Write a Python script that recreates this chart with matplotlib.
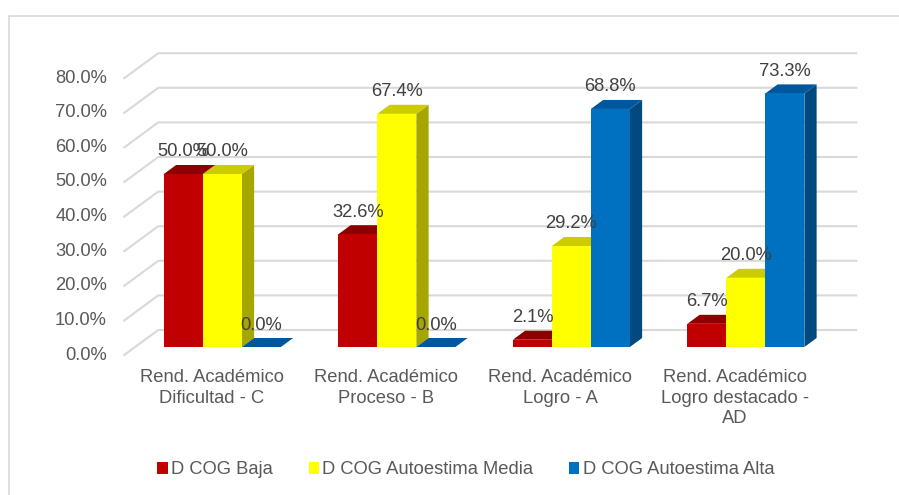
import matplotlib
matplotlib.use("Agg")
import matplotlib.pyplot as plt
from matplotlib.patches import Polygon, Rectangle, Patch

plt.rcParams['font.family'] = ['Liberation Sans', 'DejaVu Sans']

# --- datos ---
categorias = ["Rend. Académico\nDificultad - C",
              "Rend. Académico\nProceso - B",
              "Rend. Académico\nLogro - A",
              "Rend. Académico\nLogro destacado -\nAD"]
series = ["D COG Baja", "D COG Autoestima Media", "D COG Autoestima Alta"]
baja = [50.0, 32.6, 2.1, 6.7]
media = [50.0, 67.4, 29.2, 20.0]
alta = [0.0, 0.0, 68.8, 73.3]
valores = [baja, media, alta]
ticks_y = [0, 10, 20, 30, 40, 50, 60, 70, 80]

# colores: frente, tapa, lado
col_frente = ["#C00000", "#FFFF00", "#0070C0"]
col_tapa = ["#8E0000", "#CCCC00", "#00579C"]
col_lado = ["#8A0000", "#A6A600", "#004A80"]
gris_txt = "#595959"
gris_grid = "#D9D9D9"

# --- geometría (pixeles de la imagen -> unidades de datos) ---
W, H = 899, 495
PX_CAT0 = 211.5     # centro de la categoría 0 en el plano frontal
CAT_STEP = 174.5    # pixeles por categoría
PX_ZERO = 355       # 0% en el plano frontal
PX_PCT = 3.46       # pixeles por 1%
DX = 34 / CAT_STEP  # desplazamiento en profundidad completa
DY = 25 / PX_PCT
D_FRONT, D_BACK = 0.32, 0.68
ANCHO = 39 / CAT_STEP

fig = plt.figure(figsize=(W / 100, H / 100), dpi=100)
ax = fig.add_axes([0, 0, 1, 1])
ax.set_xlim((0 - PX_CAT0) / CAT_STEP, (W - PX_CAT0) / CAT_STEP)
ax.set_ylim((PX_ZERO - H) / PX_PCT, PX_ZERO / PX_PCT)
ax.axis('off')


def proy(x, y, d):
    return (x + DX * d, y + DY * d)


# marco exterior (solo se ven los bordes superior e izquierdo)
fig.patches.append(Rectangle((9 / W, -0.1), 1.0, 1.1 - 16 / H, transform=fig.transFigure,
                             fill=False, edgecolor=gris_grid, lw=1.2))

# --- líneas de cuadrícula (pared lateral y pared de fondo) ---
x_izq, x_der = -0.5, len(categorias) - 0.5
for t in ticks_y:
    p0 = proy(x_izq, t, 0)
    p1 = proy(x_izq, t, 1)
    p2 = proy(x_der, t, 1)
    ax.plot([p0[0], p1[0], p2[0]], [p0[1], p1[1], p2[1]], color=gris_grid, lw=1.5, zorder=1)
    ax.text((107 - PX_CAT0) / CAT_STEP, t, f"{t:.1f}%", ha='right', va='center',
            fontsize=13.2, color=gris_txt)

# --- barras 3D ---
for i in range(len(categorias)):
    izq_grupo = i - 1.5 * ANCHO
    for s in range(len(series)):
        v = valores[s][i]
        x0 = izq_grupo + s * ANCHO
        x1 = x0 + ANCHO
        # lado derecho
        lado = [proy(x1, 0, D_FRONT), proy(x1, 0, D_BACK), proy(x1, v, D_BACK), proy(x1, v, D_FRONT)]
        ax.add_patch(Polygon(lado, closed=True, facecolor=col_lado[s], edgecolor='none', zorder=2))
        # tapa
        tapa = [proy(x0, v, D_FRONT), proy(x1, v, D_FRONT), proy(x1, v, D_BACK), proy(x0, v, D_BACK)]
        ax.add_patch(Polygon(tapa, closed=True, facecolor=col_tapa[s], edgecolor='none', zorder=2))
        # frente
        fx, fy = proy(x0, 0, D_FRONT)
        ax.bar(fx, v, width=ANCHO, bottom=fy, align='edge', color=col_frente[s],
               edgecolor='none', zorder=2)
        # etiqueta
        ax.text(fx + ANCHO / 2, fy + v + 22 / PX_PCT, f"{v:.1f}%", ha='center', va='center',
                fontsize=13.2, color="#404040", zorder=3)

# --- etiquetas de categorías ---
for i, c in enumerate(categorias):
    ax.text(i, (PX_ZERO - 369) / PX_PCT, c, ha='center', va='top', fontsize=13.2,
            color=gris_txt, linespacing=1.27)

# --- leyenda ---
handles = [Patch(facecolor=col_frente[s], edgecolor='none') for s in range(len(series))]
fig.legend(handles, series, loc='center', bbox_to_anchor=(466 / W, 1 - 470 / H), ncol=3,
           frameon=False, fontsize=13.2, labelcolor=gris_txt, handlelength=0.55,
           handleheight=0.55, handletextpad=0.2, columnspacing=1.95, borderaxespad=0)

fig.savefig("out.png", dpi=100)
